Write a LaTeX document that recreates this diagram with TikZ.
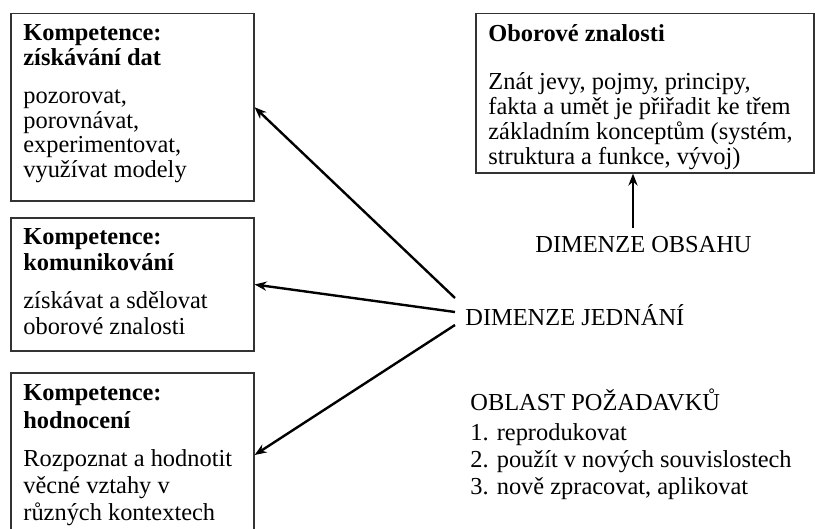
\documentclass[tikz,border=0pt]{standalone}
\usepackage{fontspec}
\setmainfont{Liberation Serif}
\usetikzlibrary{fit,arrows.meta}
% #1 = baselineskip (pt)
\newcommand\bodyfs[1]{\fontsize{12.2pt}{#1}\selectfont\lineskiplimit=-20pt\lineskip=0pt}
\tikzset{
  box/.style={draw=black!80, line width=0.6pt, inner sep=0pt},
  txt/.style={inner sep=0pt, anchor=base west, text=black},
  lbl/.style={inner sep=0pt, font=\fontsize{12.2pt}{13.5pt}\selectfont, text=black},
  arr/.style={-{Stealth[length=6pt,width=4.6pt]}, line width=1.2pt, draw=black},
}
\begin{document}
\begin{tikzpicture}[x=0.5pt,y=-0.5pt]
\path[use as bounding box, clip] (0,0) rectangle (815,529);
\fill[white] (0,0) rectangle (815,529);
% boxes
\node[box, fit={(11,13.5) (254,201)}] (b1) {};
\node[box, fit={(11,218) (254,351)}] (b2) {};
\node[box, fit={(11,373) (254,537)}] (b3) {};
\node[box, fit={(476,13.5) (814,173)}] (b4) {};
% box texts
\node[txt] (t1) at (23,41) {\parbox[t]{200pt}{\raggedright\bodyfs{12.25pt}%
  \textbf{Kompetence:}\\
  \textbf{získávání dat}\\[7pt]
  pozorovat,\\
  porovnávat,\\
  experimentovat,\\
  využívat modely}};
\node[txt] (t2) at (23,245) {\parbox[t]{200pt}{\raggedright\bodyfs{13pt}%
  \textbf{Kompetence:}\\
  \textbf{komunikování}\\[6pt]
  získávat a sdělovat\\
  oborové znalosti}};
\node[txt] (t3) at (23,401) {\parbox[t]{200pt}{\raggedright\bodyfs{13.5pt}%
  \textbf{Kompetence:}\\
  \textbf{hodnocení}\\[6pt]
  Rozpoznat a hodnotit\\
  věcné vztahy v\\
  různých kontextech}};
\node[txt] (t4) at (488,42) {\parbox[t]{200pt}{\raggedright\bodyfs{12.5pt}%
  \textbf{Oborové znalosti}\\[11.5pt]
  Znát jevy, pojmy, principy,\\
  fakta a umět je přiřadit ke třem\\
  základním konceptům (systém,\\
  struktura a funkce, vývoj)}};
% labels
\node[lbl, anchor=base] (do) at (643.5,253) {DIMENZE OBSAHU};
\node[lbl, anchor=base west] (dj) at (465,326) {DIMENZE JEDNÁNÍ};
\node[txt] (ob) at (470,411) {\parbox[t]{220pt}{\raggedright\bodyfs{13.5pt}%
  OBLAST POŽADAVKŮ\\[1.5pt]
  1. reprodukovat\\
  2. použít v nových souvislostech\\
  3. nově zpracovat, aplikovat}};
% connectors
\path ([shift={(-10.5,-25)}]do.base) coordinate (ot);
\draw[arr] (ot) -- (ot |- b4.south);
\draw[arr] ([shift={(-10,-28)}]dj.base west) -- (b1.east);
\draw[arr] ([shift={(-10,-14)}]dj.base west) -- (b2.east);
\draw[arr] ([shift={(-10,-1)}]dj.base west) -- (b3.east);
\end{tikzpicture}
\end{document}
